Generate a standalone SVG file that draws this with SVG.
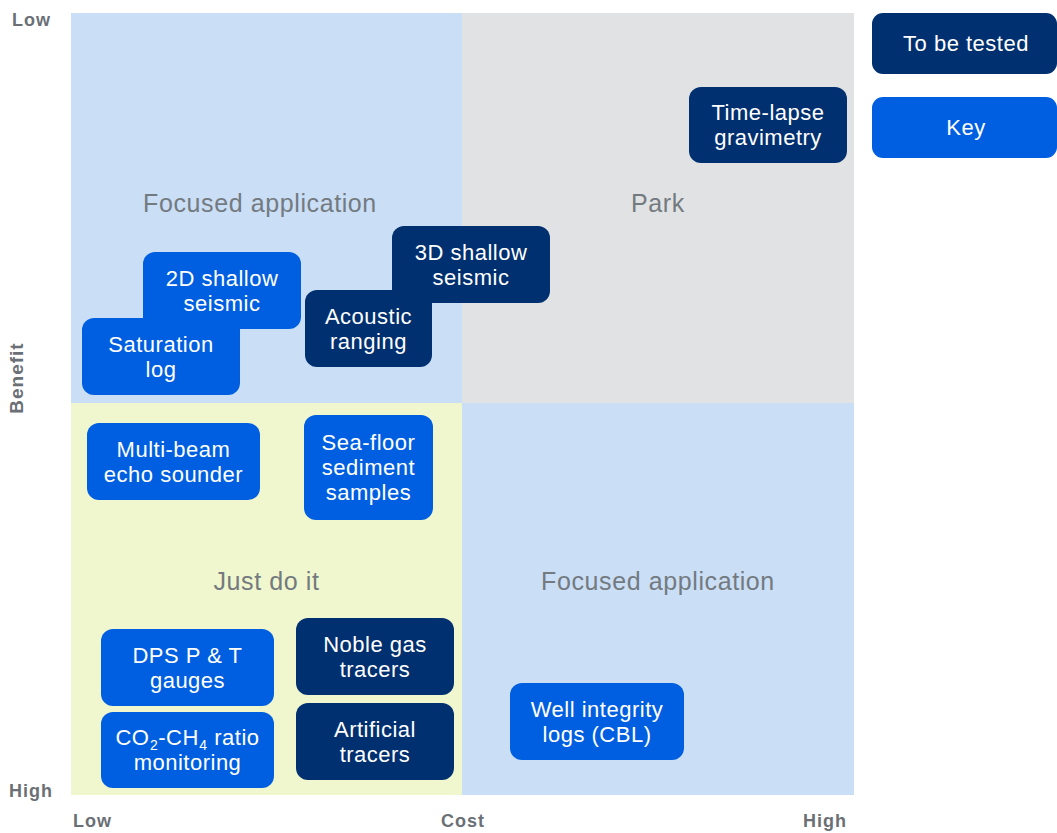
<svg xmlns="http://www.w3.org/2000/svg" width="1057" height="833" viewBox="0 0 1057 833">
  <style>
    .quad-label { font-family: "Liberation Sans", Arial, sans-serif; font-size: 25px; letter-spacing: 0.6px; fill: #737a80; text-anchor: middle; }
    .axis { font-family: "Liberation Sans", Arial, sans-serif; font-size: 18px; font-weight: bold; letter-spacing: 1px; fill: #6a7076; }
    .box-blue { fill: #005fe0; }
    .box-navy { fill: #00306f; }
    .node-text { font-family: "Liberation Sans", Arial, sans-serif; font-size: 22px; letter-spacing: 0.5px; fill: #ffffff; text-anchor: middle; }
    .sub { font-size: 14px; letter-spacing: 0; }
  </style>

  <rect width="1057" height="833" fill="#ffffff"/>

  <!-- quadrants: benefit (vertical) vs cost (horizontal) -->
  <g id="quadrants">
    <rect x="71" y="13" width="391" height="390" fill="#cadef6"/>
    <rect x="462" y="13" width="392" height="390" fill="#e1e2e4"/>
    <rect x="71" y="403" width="391" height="392" fill="#f0f6cd"/>
    <rect x="462" y="403" width="392" height="392" fill="#cadef6"/>
    <text class="quad-label" x="260" y="212">Focused application</text>
    <text class="quad-label" x="658" y="212">Park</text>
    <text class="quad-label" x="266.5" y="590">Just do it</text>
    <text class="quad-label" x="658" y="590">Focused application</text>
  </g>

  <!-- axes -->
  <g id="axes">
    <text class="axis" x="12" y="26">Low</text>
    <text class="axis" x="9" y="797">High</text>
    <text class="axis" transform="translate(23,378) rotate(-90)" text-anchor="middle" style="font-size:19px">Benefit</text>
    <text class="axis" x="73" y="827">Low</text>
    <text class="axis" x="441" y="827">Cost</text>
    <text class="axis" x="803" y="827">High</text>
  </g>

  <!-- legend -->
  <g id="legend-to-be-tested">
    <rect class="box-navy" x="872" y="13" width="185" height="61" rx="11"/>
    <text class="node-text" x="966" y="51.4">To be tested</text>
  </g>
  <g id="legend-key">
    <rect class="box-blue" x="872" y="97" width="185" height="61" rx="11"/>
    <text class="node-text" x="966" y="135.4">Key</text>
  </g>

  <!-- techniques -->
  <g id="node-time-lapse-gravimetry">
    <rect class="box-navy" x="689" y="87" width="158" height="76" rx="12"/>
    <text class="node-text" x="768" y="120.4">Time-lapse<tspan x="768" dy="25">gravimetry</tspan></text>
  </g>
  <g id="node-3d-shallow-seismic">
    <rect class="box-navy" x="392" y="226" width="158" height="77" rx="12"/>
    <text class="node-text" x="471" y="259.9">3D shallow<tspan x="471" dy="25">seismic</tspan></text>
  </g>
  <g id="node-2d-shallow-seismic">
    <rect class="box-blue" x="143" y="252" width="158" height="77" rx="12"/>
    <text class="node-text" x="222" y="285.9">2D shallow<tspan x="222" dy="25">seismic</tspan></text>
  </g>
  <g id="node-acoustic-ranging">
    <rect class="box-navy" x="305" y="290" width="127" height="77" rx="12"/>
    <text class="node-text" x="368.5" y="323.9">Acoustic<tspan x="368.5" dy="25">ranging</tspan></text>
  </g>
  <g id="node-saturation-log">
    <rect class="box-blue" x="82" y="318" width="158" height="77" rx="12"/>
    <text class="node-text" x="161" y="351.9">Saturation<tspan x="161" dy="25">log</tspan></text>
  </g>
  <g id="node-multi-beam-echo-sounder">
    <rect class="box-blue" x="87" y="423" width="173" height="77" rx="12"/>
    <text class="node-text" x="173.5" y="456.9">Multi-beam<tspan x="173.5" dy="25">echo sounder</tspan></text>
  </g>
  <g id="node-sea-floor-sediment-samples">
    <rect class="box-blue" x="304" y="415" width="129" height="105" rx="12"/>
    <text class="node-text" x="368.5" y="450.4">Sea-floor<tspan x="368.5" dy="25">sediment</tspan><tspan x="368.5" dy="25">samples</tspan></text>
  </g>
  <g id="node-dps-pt-gauges">
    <rect class="box-blue" x="101" y="629" width="173" height="77" rx="12"/>
    <text class="node-text" x="187.5" y="662.9">DPS P &amp; T<tspan x="187.5" dy="25">gauges</tspan></text>
  </g>
  <g id="node-co2-ch4-ratio">
    <rect class="box-blue" x="101" y="712" width="173" height="76" rx="12"/>
    <text class="node-text" x="187.5" y="745.4">CO<tspan class="sub" dx="0.5" dy="5">2</tspan><tspan dx="0.5" dy="-5">-CH</tspan><tspan class="sub" dx="0.5" dy="5">4</tspan><tspan dx="0.5" dy="-5"> ratio</tspan><tspan x="187.5" dy="25">monitoring</tspan></text>
  </g>
  <g id="node-noble-gas-tracers">
    <rect class="box-navy" x="296" y="618" width="158" height="77" rx="12"/>
    <text class="node-text" x="375" y="651.9">Noble gas<tspan x="375" dy="25">tracers</tspan></text>
  </g>
  <g id="node-artificial-tracers">
    <rect class="box-navy" x="296" y="703" width="158" height="77" rx="12"/>
    <text class="node-text" x="375" y="736.9">Artificial<tspan x="375" dy="25">tracers</tspan></text>
  </g>
  <g id="node-well-integrity-logs">
    <rect class="box-blue" x="510" y="683" width="174" height="77" rx="12"/>
    <text class="node-text" x="597" y="716.9">Well integrity<tspan x="597" dy="25">logs (CBL)</tspan></text>
  </g>
</svg>
